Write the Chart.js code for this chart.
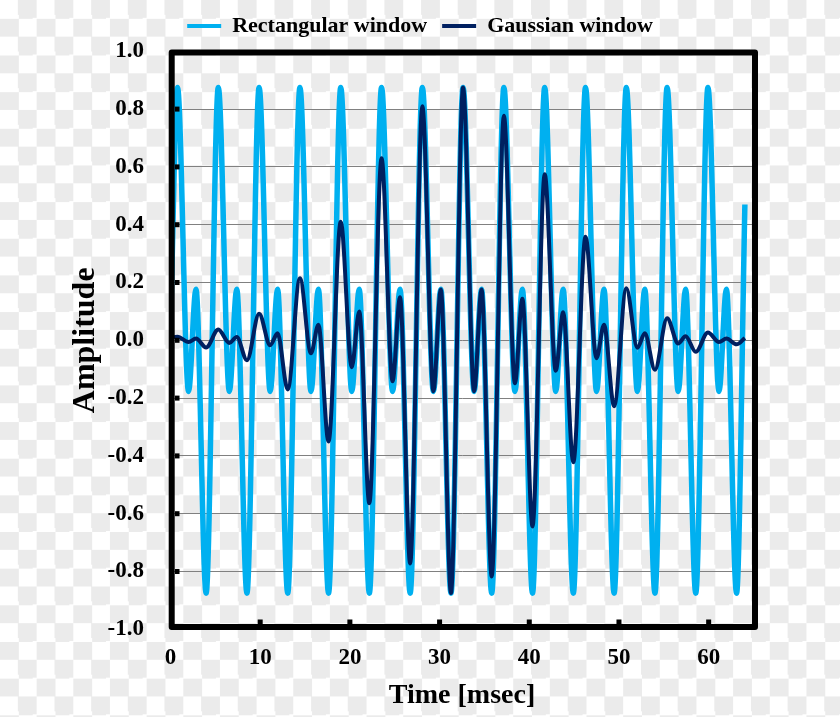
<!DOCTYPE html>
<html>
<head>
<meta charset="utf-8">
<script src="https://cdn.jsdelivr.net/npm/chart.js@4.4.1/dist/chart.umd.min.js"></script>
<style>
  html, body { margin: 0; padding: 0; }
  body {
    width: 840px; height: 717px; overflow: hidden;
    background: repeating-conic-gradient(#ebebeb 0 25%, #ffffff 0 50%) 0 0 / 36.66px 36.66px;
  }
  canvas { display: block; }
</style>
</head>
<body>
<canvas id="waveChart" width="840" height="717"></canvas>
<script>
// time of each turning point (msec)
const times = [
  0,
  0.78, 2.01, 2.84, 3.97,
  5.33, 6.56, 7.39, 8.52,
  9.88, 11.11, 11.94, 13.07,
  14.43, 15.66, 16.49, 17.62,
  18.98, 20.21, 21.04, 22.17,
  23.53, 24.76, 25.59, 26.72,
  28.08, 29.31, 30.14, 31.27,
  32.62, 33.85, 34.68, 35.81,
  37.17, 38.40, 39.23, 40.36,
  41.72, 42.95, 43.78, 44.91,
  46.27, 47.50, 48.33, 49.46,
  50.82, 52.05, 52.88, 54.01,
  55.37, 56.60, 57.43, 58.56,
  59.92, 61.15, 61.98, 63.11,
  64.04
];

const rectangular = [
  0.04,
  0.875, -0.177, 0.177, -0.875,
  0.875, -0.177, 0.177, -0.875,
  0.875, -0.177, 0.177, -0.875,
  0.875, -0.177, 0.177, -0.875,
  0.875, -0.177, 0.177, -0.875,
  0.875, -0.177, 0.177, -0.875,
  0.875, -0.177, 0.177, -0.875,
  0.875, -0.177, 0.177, -0.875,
  0.875, -0.177, 0.177, -0.875,
  0.875, -0.177, 0.177, -0.875,
  0.875, -0.177, 0.177, -0.875,
  0.875, -0.177, 0.177, -0.875,
  0.875, -0.177, 0.177, -0.875,
  0.875, -0.177, 0.177, -0.875,
  0.47
];

const gaussian = [
  0.01,
  0.012, -0.006, 0.006, -0.025,
  0.037, -0.009, 0.011, -0.069,
  0.092, -0.017, 0.024, -0.17,
  0.215, -0.045, 0.054, -0.35,
  0.41, -0.093, 0.10, -0.564,
  0.63, -0.142, 0.149, -0.772,
  0.81, -0.176, 0.176, -0.874,
  0.875, -0.176, 0.176, -0.817,
  0.777, -0.149, 0.144, -0.644,
  0.575, -0.105, 0.097, -0.422,
  0.358, -0.062, 0.054, -0.228,
  0.18, -0.026, 0.024, -0.102,
  0.076, -0.011, 0.014, -0.04,
  0.027, -0.006, 0.006, -0.014,
  0.008
];

const seriesNames = ['Rectangular window', 'Gaussian window'];
const xTitle = 'Time [msec]';
const yTitle = 'Amplitude';

Chart.defaults.font.family = "'Liberation Serif', 'DejaVu Serif', serif";
Chart.defaults.font.weight = 'bold';
Chart.defaults.color = '#000';

// black frame round the plot and the little inner tick marks
const framePlugin = {
  id: 'frame',
  afterDatasetsDraw(chart) {
    const { ctx, chartArea: a, scales: { x, y } } = chart;
    ctx.save();
    ctx.strokeStyle = '#000';
    ctx.lineWidth = 6;
    ctx.lineJoin = 'round';
    ctx.strokeRect(a.left + 1.2, a.top + 1.2, a.width + 0.3, a.height - 3.5);
    ctx.fillStyle = '#000';
    y.ticks.forEach(t => {
      if (Math.abs(t.value) < 0.99) {
        const py = y.getPixelForValue(t.value);
        ctx.fillRect(a.left + 4.5, py - 2.5, 4.5, 5);
      }
    });
    x.ticks.forEach(t => {
      if (t.value > 0) {
        const px = x.getPixelForValue(t.value);
        ctx.fillRect(px - 2.5, a.bottom - 9.8, 5, 5);
      }
    });
    ctx.restore();
  }
};

const canvas = document.getElementById('waveChart');
new Chart(canvas.getContext('2d'), {
  type: 'line',
  data: {
    datasets: [
      {
        label: seriesNames[0],
        data: times.map((t, i) => ({ x: t, y: rectangular[i] })),
        borderColor: '#00B0F0',
        backgroundColor: '#00B0F0',
        borderWidth: 5.5,
        pointRadius: 0,
        cubicInterpolationMode: 'monotone',
        order: 1
      },
      {
        label: seriesNames[1],
        data: times.map((t, i) => ({ x: t, y: gaussian[i] })),
        borderColor: '#002060',
        backgroundColor: '#002060',
        borderWidth: 4,
        pointRadius: 0,
        cubicInterpolationMode: 'monotone',
        order: 0
      }
    ]
  },
  options: {
    responsive: false,
    animation: false,
    events: [],
    layout: { padding: 0 },
    scales: {
      x: {
        type: 'linear',
        min: 0,
        max: 65,
        afterFit: s => { s.height = 87.7; },
        grid: { display: false, drawTicks: false },
        border: { display: false },
        ticks: { stepSize: 10, includeBounds: false, padding: 17, font: { size: 23, lineHeight: 1 } },
        title: { display: true, text: xTitle, font: { size: 28, lineHeight: 1 }, padding: { top: 0, bottom: 7 } }
      },
      y: {
        min: -1,
        max: 1,
        afterFit: s => { s.width = 170.5; },
        grid: { color: '#808080', lineWidth: 1, drawTicks: false },
        border: { display: false },
        ticks: {
          stepSize: 0.2,
          padding: 26.5,
          font: { size: 23, lineHeight: 1 },
          callback: v => (Math.round(v * 10) / 10).toFixed(1)
        },
        title: { display: true, text: yTitle, font: { size: 32, lineHeight: 1 }, padding: { top: 70, bottom: 0 } }
      },
      // empty right strip so the plot ends where the picture's does
      yRight: {
        position: 'right',
        afterFit: s => { s.width = 86.5; },
        grid: { display: false, drawTicks: false },
        border: { display: false },
        ticks: { display: false }
      }
    },
    plugins: {
      legend: {
        position: 'top',
        labels: {
          boxWidth: 34,
          boxHeight: 4,
          padding: 15,
          font: { size: 22 },
          sort: (a, b) => a.datasetIndex - b.datasetIndex,
          generateLabels(chart) {
            const items = Chart.defaults.plugins.legend.labels.generateLabels(chart);
            items.forEach(it => { it.lineWidth = 0; });
            return items;
          }
        }
      },
      // spacer between legend and plot
      title: { display: true, text: '', weight: 100, padding: 0, font: { size: 4.3, lineHeight: 1 } },
      tooltip: { enabled: false }
    }
  },
  plugins: [framePlugin]
});
</script>
</body>
</html>
